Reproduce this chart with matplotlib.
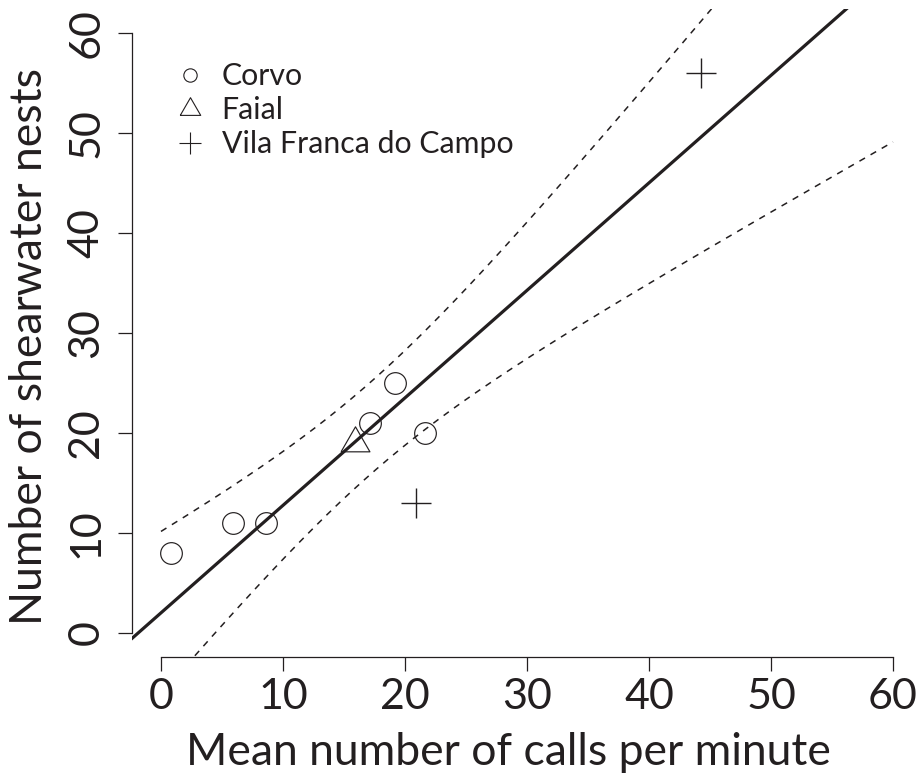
import matplotlib.pyplot as plt
from matplotlib.lines import Line2D
import numpy as np

plt.rcParams['font.family'] = ['Lato', 'DejaVu Sans']

ink = '#231f20'

# data
corvo_x = [0.8, 5.9, 8.6, 17.1, 19.2, 21.6]
corvo_y = [8, 11, 11, 21, 25, 20]
faial_x = [15.9]
faial_y = [19]
vila_x = [20.9, 44.3]
vila_y = [13, 56]
ticks = [0, 10, 20, 30, 40, 50, 60]
legend_labels = ['Corvo', 'Faial', 'Vila Franca do Campo']

# linear fit on all sites + 95% confidence band
all_x = np.array(corvo_x + faial_x + vila_x)
all_y = np.array(corvo_y + faial_y + vila_y)
slope, icpt = np.polyfit(all_x, all_y, 1)
n = len(all_x)
resid = all_y - (icpt + slope * all_x)
s = np.sqrt(np.sum(resid ** 2) / (n - 2))
sxx = np.sum((all_x - all_x.mean()) ** 2)
t975 = 2.3646  # t quantile, df = 7
xs = np.linspace(0, 60, 300)
fit = icpt + slope * xs
half = t975 * s * np.sqrt(1 / n + (xs - all_x.mean()) ** 2 / sxx)

fig = plt.figure(figsize=(9.2, 7.74), dpi=100)
ax = fig.add_axes([0.14315, 0.15116, 0.85935, 0.83721])
ax.set_xlim(-2.4, 62.4)
ax.set_ylim(-2.4, 62.4)

# triangle centred on its centroid
tri = [(-1, -0.577), (1, -0.577), (0, 1.155), (-1, -0.577)]

ax.plot(corvo_x, corvo_y, 'o', ms=15.6, mfc='none', mec=ink, mew=0.85)
ax.plot(faial_x, faial_y, marker=tri, ls='none', ms=24, mfc='none', mec=ink, mew=0.85)
ax.plot(vila_x, vila_y, '+', ms=22.3, mec=ink, mew=1.0)

ax.axline((0, icpt), slope=slope, color=ink, lw=2.3)
ax.plot(xs, fit + half, color=ink, lw=1.1, ls=(0, (4.2, 4.2)))
ax.plot(xs, fit - half, color=ink, lw=1.1, ls=(0, (4.2, 4.2)))

for side in ['top', 'right']:
    ax.spines[side].set_visible(False)
ax.spines['left'].set_bounds(0, 60)
ax.spines['bottom'].set_bounds(0, 60)
for side in ['left', 'bottom']:
    ax.spines[side].set_color(ink)
    ax.spines[side].set_linewidth(0.9)

ax.set_xticks(ticks)
ax.set_yticks(ticks)
ax.tick_params(direction='out', length=10, width=0.9, color=ink, labelcolor=ink, labelsize=31)
ax.tick_params(axis='x', pad=5)
ax.tick_params(axis='y', pad=9)
for lab in ax.get_yticklabels():
    lab.set_rotation(90)
    lab.set_va('center')

ax.set_xlabel('Mean number of calls per minute', fontsize=32, color=ink, va='baseline')
ax.xaxis.set_label_coords(0.477, -0.1667)
ax.set_ylabel('Number of shearwater nests', fontsize=32, color=ink, va='baseline',
              rotation_mode='anchor')
ax.yaxis.set_label_coords(-0.1135, 0.479)

handles = [
    Line2D([], [], ls='none', marker='o', ms=9.6, mfc='none', mec=ink, mew=0.8),
    Line2D([], [], ls='none', marker=tri, ms=17, mfc='none', mec=ink, mew=0.8),
    Line2D([], [], ls='none', marker='+', ms=16.5, mec=ink, mew=0.8),
]
leg = ax.legend(handles, legend_labels, loc='upper left', bbox_to_anchor=(0.19, 0.9195),
                bbox_transform=fig.transFigure, frameon=False, fontsize=21.8,
                handlelength=1.0, handletextpad=0.55, labelspacing=0.2,
                borderpad=0, borderaxespad=0, labelcolor=ink)

fig.savefig('out.png', dpi=100)
